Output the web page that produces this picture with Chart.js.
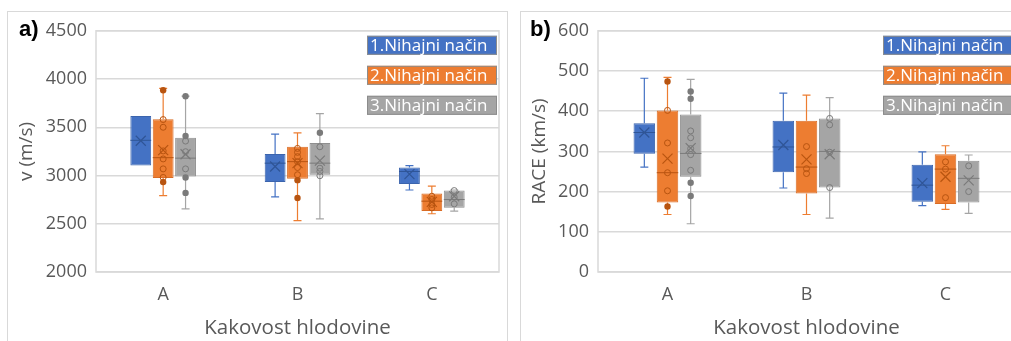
<!DOCTYPE html>
<html>
<head>
<meta charset="utf-8">
<script src="https://cdn.jsdelivr.net/npm/chart.js@4.4.0/dist/chart.umd.min.js"></script>
<style>
  body { margin: 0; width: 1011px; height: 341px; overflow: hidden; background: #fff; position: relative; }
  .panel { position: absolute; top: 11px; height: 340px; border: 1px solid #d9d9d9; box-sizing: border-box; }
  #panelV { left: 7px; width: 501px; }
  #panelRace { left: 520px; width: 520px; }
  canvas { position: absolute; top: 11px; }
  #chartV { left: 7px; }
  #chartRace { left: 520px; }
</style>
</head>
<body>
<div class="panel" id="panelV"></div>
<div class="panel" id="panelRace"></div>
<canvas id="chartV" width="500" height="330"></canvas>
<canvas id="chartRace" width="503" height="330"></canvas>
<script>
const categories = ['A', 'B', 'C'];
const seriesNames = ['1.Nihajni način', '2.Nihajni način', '3.Nihajni način'];
const seriesColors = ['#4472C4', '#ED7D31', '#A5A5A5'];
const seriesBorders = ['#3b64ad', '#d96c25', '#8f8f8f'];
const seriesDark = ['#2f5597', '#b85410', '#7a7a7a'];

// a) v (m/s) -- one row per series, one column per category
const vMin    = [[3103, 2778, 2850], [2792, 2532, 2604], [2655, 2550, 2631]];
const vQ1     = [[3103, 2932, 2912], [2973, 2966, 2631], [2990, 3007, 2666]];
const vMedian = [[3365, 3128, 3042], [3185, 3144, 2734], [3180, 3128, 2751]];
const vQ3     = [[3617, 3224, 3083], [3583, 3298, 2813], [3391, 3336, 2844]];
const vMax    = [[3617, 3430, 3103], [3904, 3443, 2891], [3822, 3641, 2850]];
const vMean   = [[3360, 3093, 3015], [3264, 3128, 2727], [3220, 3154, 2785]];
const vPoints = [
  [[], [], []],
  [[3580, 3500, 3255, 3172, 3069, 2980], [3281, 3240, 3196, 3144, 3083, 3008], [2785, 2751, 2700, 2665]],
  [[3357, 3247, 3069], [3298, 3076, 3042, 2998], [2844, 2775, 2706]]
];
const vOutliers = [
  [[], [], []],
  [[3884, 2932], [2952, 2767], []],
  [[3822, 3410, 2980, 2820], [3443], []]
];

// b) RACE (km/s)
const raceMin    = [[261, 209, 165], [143, 143, 156], [120, 134, 146]];
const raceQ1     = [[294, 248, 175], [173, 195, 169], [237, 210, 173]];
const raceMedian = [[347, 311, 216], [247, 261, 256], [295, 300, 233]];
const raceQ3     = [[370, 376, 267], [402, 376, 293], [392, 382, 277]];
const raceMax    = [[482, 445, 299], [484, 440, 314], [479, 434, 291]];
const raceMean   = [[347, 316, 221], [282, 280, 237], [308, 293, 228]];
const racePoints = [
  [[], [], []],
  [[402, 321, 247, 202], [312, 257, 245], [274, 256, 185]],
  [[351, 334, 307, 292, 253], [382, 366, 298, 210], [264, 200]]
];
const raceOutliers = [
  [[], [], []],
  [[474, 163], [], []],
  [[449, 431, 222, 189], [], []]
];

Chart.defaults.font.family = "'Open Sans', sans-serif";
Chart.defaults.color = '#595959';

// whiskers, median, mean cross and data points on top of the q1..q3 bars
const boxPlot = {
  id: 'boxPlot',
  afterDatasetsDraw(chart) {
    const ctx = chart.ctx;
    const y = chart.scales.y;
    chart.data.datasets.forEach((ds, i) => {
      const meta = chart.getDatasetMeta(i);
      const s = ds.stats;
      meta.data.forEach((bar, j) => {
        const x = bar.x;
        const half = bar.width / 2;
        const py = v => y.getPixelForValue(v);
        ctx.save();
        ctx.strokeStyle = ds.backgroundColor;
        ctx.lineWidth = 1.2;
        ctx.beginPath();
        if (s.max[j] > s.q3[j]) {
          ctx.moveTo(x, py(s.q3[j])); ctx.lineTo(x, py(s.max[j]));
          ctx.moveTo(x - 4, py(s.max[j])); ctx.lineTo(x + 4, py(s.max[j]));
        }
        if (s.min[j] < s.q1[j]) {
          ctx.moveTo(x, py(s.q1[j])); ctx.lineTo(x, py(s.min[j]));
          ctx.moveTo(x - 4, py(s.min[j])); ctx.lineTo(x + 4, py(s.min[j]));
        }
        ctx.stroke();

        // median
        ctx.strokeStyle = ds.darkColor;
        ctx.lineWidth = 1;
        ctx.beginPath();
        ctx.moveTo(x - half, py(s.median[j]));
        ctx.lineTo(x + half, py(s.median[j]));
        ctx.stroke();

        // mean
        const my = py(s.mean[j]);
        ctx.lineWidth = 1.2;
        ctx.beginPath();
        ctx.moveTo(x - 5, my - 5); ctx.lineTo(x + 5, my + 5);
        ctx.moveTo(x + 5, my - 5); ctx.lineTo(x - 5, my + 5);
        ctx.stroke();

        // inner points
        ctx.lineWidth = 1;
        s.points[j].forEach(v => {
          ctx.beginPath();
          ctx.arc(x, py(v), 3, 0, Math.PI * 2);
          ctx.stroke();
        });
        // outliers
        ctx.fillStyle = ds.darkColor;
        s.outliers[j].forEach(v => {
          ctx.beginPath();
          ctx.arc(x, py(v), 3.2, 0, Math.PI * 2);
          ctx.fill();
        });
        ctx.restore();
      });
    });
  }
};

// plot frame, legend labels and panel letter
const decorations = {
  id: 'decorations',
  beforeDatasetsDraw(chart) {
    const { ctx, chartArea: a } = chart;
    ctx.save();
    ctx.strokeStyle = '#d9d9d9';
    ctx.lineWidth = 1.5;
    ctx.strokeRect(a.left, a.top, a.right - a.left, a.bottom - a.top);
    ctx.restore();
  },
  afterDraw(chart, args, opts) {
    const { ctx, chartArea: a } = chart;
    ctx.save();
    ctx.font = "17px 'Open Sans', sans-serif";
    ctx.textBaseline = 'middle';
    seriesNames.forEach((name, i) => {
      const w = 130, h = 19;
      const left = a.right - 2 - w;
      const top = a.top + 5 + i * 30;
      ctx.fillStyle = seriesColors[i];
      ctx.fillRect(left, top, w, h);
      ctx.strokeStyle = '#8c8c8c';
      ctx.lineWidth = 1;
      ctx.strokeRect(left + 0.5, top + 0.5, w - 1, h - 1);
      ctx.fillStyle = '#ffffff';
      ctx.fillText(name, left + 3, top + h / 2 + 1);
    });
    ctx.fillStyle = '#000000';
    ctx.font = "bold 22px 'Liberation Sans', Arial, sans-serif";
    ctx.textBaseline = 'middle';
    ctx.fillText(opts.letter, opts.letterX, 19);
    ctx.restore();
  }
};

function buildDatasets(q1, q3, min, median, mean, max, points, outliers) {
  return seriesNames.map((name, i) => ({
    label: name,
    data: categories.map((c, j) => [q1[i][j], q3[i][j]]),
    backgroundColor: seriesColors[i],
    borderColor: seriesBorders[i],
    darkColor: seriesDark[i],
    borderWidth: 1,
    borderSkipped: false,
    categoryPercentage: 0.5,
    barPercentage: 0.93,
    stats: { min: min[i], q1: q1[i], median: median[i], q3: q3[i], max: max[i], mean: mean[i], points: points[i], outliers: outliers[i] }
  }));
}

function makeChart(id, datasets, yMin, yMax, step, yTitle, yWidth, letter, letterX) {
  return new Chart(document.getElementById(id), {
    type: 'bar',
    data: { labels: categories, datasets: datasets },
    plugins: [decorations, boxPlot],
    options: {
      responsive: false,
      animation: false,
      layout: { padding: { top: 17, right: 8, left: 0, bottom: 0 } },
      plugins: {
        legend: { display: false },
        tooltip: { enabled: false },
        decorations: { letter: letter, letterX: letterX }
      },
      scales: {
        x: {
          grid: { display: false },
          border: { display: false },
          ticks: { padding: 4, font: { size: 18 } },
          title: { display: true, text: 'Kakovost hlodovine', font: { size: 20.5 }, padding: { top: 0, bottom: 1 } },
          afterFit(scale) { scale.height = 69; }
        },
        y: {
          min: yMin,
          max: yMax,
          grid: { color: '#d9d9d9', lineWidth: 1.5, drawTicks: false },
          border: { display: false },
          ticks: { stepSize: step, padding: 9, font: { size: 18 }, callback: v => String(v) },
          title: { display: true, text: yTitle, font: { size: 19 }, padding: { top: 8, bottom: 0 } },
          afterFit(scale) { scale.width = yWidth; }
        }
      }
    }
  });
}

makeChart('chartV',
  buildDatasets(vQ1, vQ3, vMin, vMedian, vMean, vMax, vPoints, vOutliers),
  2000, 4500, 500, 'v (m/s)', 89, 'a)', 12);

makeChart('chartRace',
  buildDatasets(raceQ1, raceQ3, raceMin, raceMedian, raceMean, raceMax, racePoints, raceOutliers),
  0, 600, 100, 'RACE (km/s)', 78, 'b)', 10);
</script>
</body>
</html>
